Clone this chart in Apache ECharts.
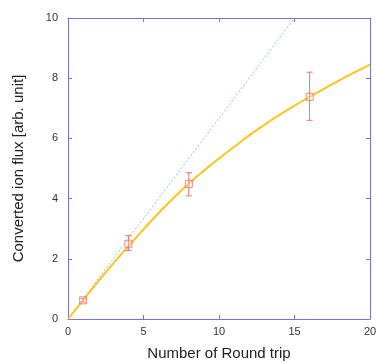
<!DOCTYPE html>
<html><head><meta charset="utf-8">
<script src="https://cdn.jsdelivr.net/npm/echarts@6/dist/echarts.min.js"></script>
<style>html,body{margin:0;padding:0;background:#fff}#c{width:376px;height:362px}</style>
</head><body><div id="c"></div>
<script>
const roundTrips = [1, 4, 8, 16];
const fluxValues = [0.62, 2.5, 4.49, 7.38];
const errLow = [0.56, 2.28, 4.09, 6.6];
const errHigh = [0.68, 2.77, 4.86, 8.2];
const fitX = [0, 1, 2, 3, 4, 5, 6, 7, 8, 9, 10, 11, 12, 13, 14, 15, 16, 17, 18, 19, 20];
const fitY = [0, 0.63, 1.25, 1.85, 2.42, 2.98, 3.52, 4.03, 4.5, 4.93, 5.33, 5.72, 6.1, 6.45, 6.78, 7.09, 7.38, 7.66, 7.94, 8.2, 8.45];
const linX = [0, 15];
const linY = [0, 10];
const xTicks = [0, 5, 10, 15, 20];
const yTicks = [0, 2, 4, 6, 8, 10];

const axisColor = '#7373e6';
const chart = echarts.init(document.getElementById('c'));
const lbl = {color: '#333', fontSize: 11, fontFamily: 'Liberation Sans, Arial'};
const common = {
  axisLine: {show: true, onZero: false, lineStyle: {color: axisColor, width: 1}},
  axisTick: {show: true, inside: true, length: 4, lineStyle: {color: axisColor}},
  splitLine: {show: false}
};
chart.setOption({
  animation: false,
  grid: {left: 68, top: 18, width: 302, height: 301, containLabel: false, outerBoundsMode: 'none'},
  xAxis: [
    Object.assign({type: 'value', min: 0, max: 20, interval: 5, position: 'bottom',
      name: 'Number of Round trip', nameLocation: 'middle', nameGap: 27,
      nameTextStyle: {color: '#222', fontSize: 15, fontFamily: 'Liberation Sans, Arial'},
      axisLabel: Object.assign({margin: 7}, lbl)}, common),
    Object.assign({type: 'value', min: 0, max: 20, interval: 5, position: 'top',
      axisLabel: {show: false}}, common)
  ],
  yAxis: [
    Object.assign({type: 'value', min: 0, max: 10, interval: 2, position: 'left',
      name: 'Converted ion flux [arb. unit]', nameLocation: 'middle', nameGap: 42,
      nameTextStyle: {color: '#222', fontSize: 15, fontFamily: 'Liberation Sans, Arial'},
      axisLabel: Object.assign({margin: 10}, lbl)}, common),
    Object.assign({type: 'value', min: 0, max: 10, interval: 2, position: 'right',
      axisLabel: {show: false}}, common)
  ],
  series: [
    {type: 'line', data: linX.map((x, i) => [x, linY[i]]), symbol: 'none',
      lineStyle: {color: '#8dbde8', width: 1, type: [2, 2]}, z: 1},
    {type: 'line', data: fitX.map((x, i) => [x, fitY[i]]), symbol: 'none', smooth: true,
      lineStyle: {color: '#ffc41f', width: 2}, z: 2},
    {type: 'custom', z: 3,
      data: roundTrips.map((x, i) => [x, errLow[i], errHigh[i]]),
      renderItem: function (params, api) {
        const x = api.value(0);
        const lo = api.coord([x, api.value(1)]);
        const hi = api.coord([x, api.value(2)]);
        const hw = 3;
        const st = {stroke: '#f07070', lineWidth: 1};
        return {type: 'group', children: [
          {type: 'line', shape: {x1: lo[0], y1: lo[1], x2: hi[0], y2: hi[1]}, style: st},
          {type: 'line', shape: {x1: lo[0] - hw, y1: lo[1], x2: lo[0] + hw, y2: lo[1]}, style: st},
          {type: 'line', shape: {x1: hi[0] - hw, y1: hi[1], x2: hi[0] + hw, y2: hi[1]}, style: st}
        ]};
      }},
    {type: 'scatter', z: 4, data: roundTrips.map((x, i) => [x, fluxValues[i]]),
      symbol: 'rect', symbolSize: 7,
      itemStyle: {color: 'rgba(255,255,255,0.3)', borderColor: '#f06a6a', borderWidth: 1}}
  ]
});
</script></body></html>
